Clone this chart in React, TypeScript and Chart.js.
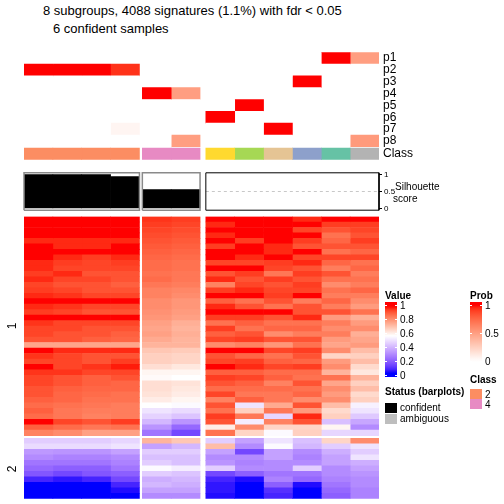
import React, { useEffect, useRef } from "react";
import { Chart, registerables } from "chart.js";

Chart.register(...registerables);

const FONT = '"Liberation Sans", Arial, Helvetica, sans-serif';

// ---------------- data ----------------
const titleLine1 = "8 subgroups, 4088 signatures (1.1%) with fdr < 0.05";
const titleLine2 = "6 confident samples";

const sampleGroup = [0, 0, 0, 0, 1, 1, 2, 2, 2, 2, 2, 2];
const sampleClass = [2, 2, 2, 2, 4, 4, 6, 5, 7, 3, 1, 8];
const sampleConfident = [1, 1, 1, 1, 1, 1, 0, 0, 0, 0, 0, 0];
const silhouette = [1, 1, 1, 0.94, 0.56, 0.56, 0, 0, 0, 0, 0, 0];

const probRowLabels = ["p1", "p2", "p3", "p4", "p5", "p6", "p7", "p8"];
const p1 = [0, 0, 0, 0, 0, 0, 0, 0, 0, 0, 1, 0.5];
const p2 = [1, 1, 1, 0.93, 0, 0, 0, 0, 0, 0, 0, 0];
const p3 = [0, 0, 0, 0, 0, 0, 0, 0, 0, 1, 0, 0];
const p4 = [0, 0, 0, 0, 1, 0.5, 0, 0, 0, 0, 0, 0];
const p5 = [0, 0, 0, 0, 0, 0, 0, 1, 0, 0, 0, 0];
const p6 = [0, 0, 0, 0, 0, 0, 1, 0, 0, 0, 0, 0];
const p7 = [0, 0, 0, 0.05, 0, 0, 0, 0, 1, 0, 0, 0];
const p8 = [0, 0, 0, 0, 0, 0.5, 0, 0, 0, 0, 0, 0.52];
const probRows = [p1, p2, p3, p4, p5, p6, p7, p8];

const classPalette: Record<number, string> = {
  1: "#66C2A5", 2: "#FC8D62", 3: "#8DA0CB", 4: "#E78AC3",
  5: "#A6D854", 6: "#FFD92F", 7: "#E5C494", 8: "#B3B3B3",
};
const legendClasses = [2, 4];

const rowGroupLabels = ["1", "2"];
const rowGroupSizes = [40, 11];

// heatmap columns (rows of group 1: 40 values, then group 2: 11 values)
const heatA1 = [
  1.0, 1.0, 0.98, 1.0, 0.95, 1.0, 1.0, 0.98, 0.95, 0.95, 0.93, 0.95, 0.92,
  0.93, 0.95, 1.0, 0.95, 0.93, 1.0, 0.94, 0.92, 0.92, 0.9, 0.75, 0.98, 0.94,
  0.92, 0.97, 0.94, 0.92, 0.92, 0.9, 0.9, 0.88, 0.86, 0.88, 0.86, 0.97, 0.88, 0.82,
  0.45, 0.48, 0.33, 0.3, 0.25, 0.22, 0.18, 0.08, 0.03, 0.03, 0.03,
];
const heatA2 = [
  1.0, 1.0, 1.0, 0.98, 0.95, 0.95, 0.98, 0.95, 0.93, 0.92, 0.95, 0.92, 0.9,
  0.92, 0.94, 0.98, 0.94, 0.92, 0.97, 0.92, 0.92, 0.9, 0.9, 0.75, 0.95, 0.92,
  0.92, 0.92, 0.94, 0.9, 0.9, 0.88, 0.87, 0.87, 0.85, 0.84, 0.84, 0.92, 0.86, 0.8,
  0.45, 0.48, 0.32, 0.28, 0.25, 0.2, 0.15, 0.06, 0.03, 0.03, 0.03,
];
const heatA3 = [
  1.0, 1.0, 0.98, 0.97, 0.95, 0.95, 0.97, 0.93, 0.92, 0.92, 0.9, 0.92, 0.9,
  0.9, 0.92, 1.0, 0.92, 0.9, 0.98, 0.92, 0.9, 0.9, 0.88, 0.75, 0.95, 0.9,
  0.9, 0.94, 0.92, 0.88, 0.88, 0.87, 0.86, 0.85, 0.84, 0.83, 0.82, 0.9, 0.84, 0.76,
  0.45, 0.48, 0.32, 0.28, 0.25, 0.2, 0.18, 0.08, 0.04, 0.03, 0.03,
];
const heatA4 = [
  1.0, 0.98, 0.97, 0.97, 0.95, 0.97, 0.98, 0.95, 0.93, 0.92, 0.9, 0.9, 0.88,
  0.9, 0.92, 1.0, 0.92, 0.9, 0.97, 0.92, 0.9, 0.88, 0.87, 0.75, 0.95, 0.9,
  0.93, 0.96, 0.92, 0.9, 0.87, 0.87, 0.85, 0.85, 0.83, 0.83, 0.83, 0.93, 0.85, 0.76,
  0.47, 0.5, 0.35, 0.3, 0.28, 0.25, 0.2, 0.15, 0.08, 0.05, 0.04,
];
const heatB1 = [
  0.94, 0.93, 0.92, 0.91, 0.9, 0.89, 0.88, 0.87, 0.86, 0.86, 0.85, 0.86, 0.84,
  0.82, 0.82, 0.8, 0.8, 0.79, 0.78, 0.76, 0.75, 0.76, 0.74, 0.72, 0.68, 0.66,
  0.66, 0.63, 0.58, 0.57, 0.63, 0.63, 0.62, 0.6, 0.56, 0.5, 0.46, 0.4, 0.32, 0.25,
  0.72, 0.35, 0.45, 0.42, 0.45, 0.55, 0.45, 0.38, 0.4, 0.35, 0.3,
];
const heatB2 = [
  0.93, 0.92, 0.91, 0.9, 0.89, 0.88, 0.87, 0.86, 0.85, 0.85, 0.84, 0.84, 0.83,
  0.81, 0.8, 0.78, 0.78, 0.77, 0.76, 0.73, 0.72, 0.73, 0.72, 0.72, 0.67, 0.65,
  0.65, 0.61, 0.58, 0.56, 0.62, 0.61, 0.6, 0.58, 0.55, 0.48, 0.43, 0.32, 0.22, 0.15,
  0.68, 0.4, 0.45, 0.42, 0.42, 0.52, 0.43, 0.4, 0.38, 0.35, 0.3,
];
const heatC1 = [
  1.0, 0.95, 1.0, 0.95, 1.0, 0.93, 1.0, 0.98, 0.92, 0.98, 0.9, 0.95, 0.82,
  0.93, 1.0, 0.88, 0.95, 1.0, 0.93, 0.85, 0.93, 0.88, 0.92, 0.8, 0.97, 0.9,
  0.92, 0.97, 0.88, 0.93, 0.9, 0.86, 0.92, 0.82, 0.9, 0.85, 0.93, 0.9, 0.6, 0.85,
  0.45, 0.7, 0.35, 0.3, 0.32, 0.45, 0.15, 0.08, 0.06, 0.06, 0.05,
];
const heatC2 = [
  1.0, 1.0, 0.98, 1.0, 0.93, 0.98, 1.0, 0.95, 0.92, 0.97, 0.93, 0.9, 0.92,
  0.95, 1.0, 0.85, 0.9, 0.97, 0.93, 0.88, 0.85, 0.9, 0.93, 0.82, 0.97, 0.87,
  0.93, 0.95, 0.88, 0.92, 0.88, 0.86, 0.84, 0.88, 0.5, 0.66, 0.84, 0.52, 0.8, 0.65,
  0.35, 0.3, 0.15, 0.3, 0.28, 0.3, 0.2, 0.05, 0.03, 0.03, 0.03,
];
const heatC3 = [
  1.0, 1.0, 1.0, 0.98, 0.98, 0.95, 0.95, 0.97, 0.93, 0.92, 0.84, 0.93, 0.9,
  0.92, 0.93, 0.9, 0.85, 0.97, 0.9, 0.85, 0.87, 0.8, 0.9, 0.78, 0.92, 0.85,
  0.88, 0.92, 0.86, 0.88, 0.82, 0.86, 0.84, 0.84, 0.74, 0.84, 0.47, 0.82, 0.65, 0.55,
  0.5, 0.55, 0.35, 0.35, 0.3, 0.3, 0.25, 0.28, 0.2, 0.1, 0.08,
];
const heatC4 = [
  0.95, 0.98, 0.92, 0.97, 0.93, 0.9, 0.97, 0.92, 0.95, 0.9, 0.93, 0.9, 0.93,
  0.92, 0.97, 0.83, 0.9, 0.9, 0.95, 0.85, 0.87, 0.83, 0.9, 0.85, 0.93, 0.9,
  0.87, 0.93, 0.86, 0.85, 0.9, 0.85, 0.87, 0.8, 0.9, 0.77, 0.95, 0.9, 0.65, 0.66,
  0.42, 0.4, 0.3, 0.28, 0.3, 0.45, 0.25, 0.22, 0.05, 0.03, 0.03,
];
const heatC5 = [
  0.97, 0.93, 0.9, 0.85, 0.87, 0.9, 0.85, 0.92, 0.87, 0.83, 0.9, 0.85, 0.8,
  0.85, 0.83, 0.87, 0.83, 0.9, 0.77, 0.83, 0.8, 0.83, 0.77, 0.75, 0.8, 0.65,
  0.77, 0.8, 0.72, 0.85, 0.75, 0.8, 0.77, 0.8, 0.7, 0.64, 0.66, 0.42, 0.58, 0.47,
  0.65, 0.45, 0.38, 0.35, 0.35, 0.3, 0.3, 0.28, 0.25, 0.22, 0.2,
];
const heatC6 = [
  0.97, 0.93, 0.92, 0.9, 0.93, 0.9, 0.87, 0.92, 0.85, 0.87, 0.83, 0.85, 0.83,
  0.87, 0.83, 0.8, 0.77, 0.85, 0.73, 0.77, 0.8, 0.73, 0.75, 0.77, 0.7, 0.66,
  0.7, 0.64, 0.61, 0.72, 0.66, 0.7, 0.64, 0.66, 0.53, 0.5, 0.44, 0.36, 0.3, 0.47,
  0.8, 0.5, 0.45, 0.5, 0.38, 0.35, 0.32, 0.3, 0.3, 0.28, 0.28,
];
const heatColumns = [heatA1, heatA2, heatA3, heatA4, heatB1, heatB2, heatC1, heatC2, heatC3, heatC4, heatC5, heatC6];

const valueTicks = [0, 0.2, 0.4, 0.6, 0.8, 1];
const probTicks = [0, 0.5, 1];
const silhouetteTicks = [0, 0.5, 1];

// ---------------- layout / style ----------------
const GROUP_GAP = [0, 0.1, 0.3];
const X_MAX = 12.3;
const ANN_CLASS_GAP = 0.1;
const ANN_MAX = 9 + ANN_CLASS_GAP;
const ROW_GAP = 0.5;
const HEAT_MAX = rowGroupSizes.reduce((a, b) => a + b, 0) + ROW_GAP * (rowGroupSizes.length - 1);
const HEAT_TOP = 216.5;
const HEAT_H = 282.2;
const groupBorder = ["#8a8a8a", "#8a8a8a", "#000000"];
const statusColors = { confident: "#000000", ambiguous: "#BEBEBE" };

const colStart = (i: number) => i + GROUP_GAP[sampleGroup[i]];
const annCenter = (k: number) => k + 0.5 + (k >= 8 ? ANN_CLASS_GAP : 0);
const heatRowGroup = (k: number) => {
  let acc = 0;
  for (let g = 0; g < rowGroupSizes.length; g++) {
    acc += rowGroupSizes[g];
    if (k < acc) return g;
  }
  return rowGroupSizes.length - 1;
};
const heatCenter = (k: number) => k + 0.5 + heatRowGroup(k) * ROW_GAP;

// ---------------- colours (LAB interpolation like circlize) ----------------
function hexToRgb(h: string): number[] {
  return [1, 3, 5].map((i) => parseInt(h.slice(i, i + 2), 16));
}
function rgbToLab(rgb: number[]): number[] {
  const lin = (c: number) => {
    c /= 255;
    return c <= 0.04045 ? c / 12.92 : Math.pow((c + 0.055) / 1.055, 2.4);
  };
  const [R, G, B] = rgb.map(lin);
  const X = (0.4124 * R + 0.3576 * G + 0.1805 * B) / 0.95047;
  const Y = 0.2126 * R + 0.7152 * G + 0.0722 * B;
  const Z = (0.0193 * R + 0.1192 * G + 0.9505 * B) / 1.08883;
  const f = (t: number) => (t > 0.008856 ? Math.cbrt(t) : 7.787 * t + 16 / 116);
  return [116 * f(Y) - 16, 500 * (f(X) - f(Y)), 200 * (f(Y) - f(Z))];
}
function labToHex(lab: number[]): string {
  const [L, a, b] = lab;
  const fy = (L + 16) / 116;
  const fx = fy + a / 500;
  const fz = fy - b / 200;
  const inv = (t: number) => (t * t * t > 0.008856 ? t * t * t : (t - 16 / 116) / 7.787);
  const X = inv(fx) * 0.95047;
  const Y = inv(fy);
  const Z = inv(fz) * 1.08883;
  const R = 3.2406 * X - 1.5372 * Y - 0.4986 * Z;
  const G = -0.9689 * X + 1.8758 * Y + 0.0415 * Z;
  const B = 0.0557 * X - 0.204 * Y + 1.057 * Z;
  const gam = (c: number) => {
    c = c <= 0.0031308 ? 12.92 * c : 1.055 * Math.pow(Math.max(c, 0), 1 / 2.4) - 0.055;
    return Math.round(Math.min(1, Math.max(0, c)) * 255);
  };
  return "#" + [R, G, B].map((c) => gam(c).toString(16).padStart(2, "0")).join("");
}
function makeRamp(breaks: number[], colors: string[]) {
  const labs = colors.map((c) => rgbToLab(hexToRgb(c)));
  return (v: number) => {
    if (v <= breaks[0]) return colors[0];
    if (v >= breaks[breaks.length - 1]) return colors[colors.length - 1];
    let j = 0;
    while (v > breaks[j + 1]) j++;
    const t = (v - breaks[j]) / (breaks[j + 1] - breaks[j]);
    return labToHex(labs[j].map((x, k) => x + (labs[j + 1][k] - x) * t));
  };
}
const valueColor = makeRamp([0.04, 0.56, 0.97], ["#0000FF", "#FFFFFF", "#FF0000"]);
const probColor = makeRamp([0, 1], ["#FFFFFF", "#FF0000"]);

const valueGradient =
  "linear-gradient(to top, " +
  Array.from({ length: 41 }, (_, n) => {
    const f = n / 40;
    const v = Math.min(1, Math.max(0, (75 * f - 2) / 70));
    return `${valueColor(v)} ${(f * 100).toFixed(2)}%`;
  }).join(", ") +
  ")";
const probGradient =
  "linear-gradient(to top, " +
  Array.from({ length: 21 }, (_, n) => {
    const f = n / 20;
    const v = Math.min(1, Math.max(0, (60 * f - 1) / 56));
    return `${probColor(v)} ${(f * 100).toFixed(2)}%`;
  }).join(", ") +
  ")";

const baseOptions: any = {
  responsive: false,
  animation: false,
  events: [],
  plugins: { legend: { display: false }, tooltip: { enabled: false } },
};

function Txt(props: { x: number; base: number; size: number; bold?: boolean; children: React.ReactNode }) {
  const { x, base, size, bold, children } = props;
  const lh = Math.round(size * 1.3);
  const top = base - ((lh - 1.117 * size) / 2 + 0.905 * size);
  return (
    <div
      style={{
        position: "absolute",
        left: x,
        top,
        fontSize: size,
        lineHeight: `${lh}px`,
        fontWeight: bold ? "bold" : "normal",
        whiteSpace: "nowrap",
      }}
    >
      {children}
    </div>
  );
}

export default function App() {
  const annRef = useRef<HTMLCanvasElement>(null);
  const silRef = useRef<HTMLCanvasElement>(null);
  const heatRef = useRef<HTMLCanvasElement>(null);

  useEffect(() => {
    const charts: Chart[] = [];
    const annLabels = [...probRowLabels, "Class"];

    // ---- top annotation (probabilities + class) ----
    const annDatasets = heatColumns.map((_, i) => ({
      data: annLabels.map((_, k) => ({ x: [colStart(i), colStart(i) + 1], y: annCenter(k) })),
      backgroundColor: annLabels.map((_, k) =>
        k < 8 ? probColor(probRows[k][i]) : classPalette[sampleClass[i]]
      ),
      borderWidth: 0,
      barPercentage: 1,
      categoryPercentage: 1,
      grouped: false,
    }));
    charts.push(
      new Chart(annRef.current as HTMLCanvasElement, {
        type: "bar",
        data: { datasets: annDatasets as any },
        options: {
          ...baseOptions,
          indexAxis: "y",
          layout: { padding: { left: 24, right: 0, top: 0.3, bottom: 1 } },
          scales: {
            x: { type: "linear", min: 0, max: X_MAX, display: false, offset: false },
            y: {
              type: "linear",
              reverse: true,
              min: 0,
              max: ANN_MAX,
              offset: false,
              position: "right",
              afterBuildTicks: (s: any) => {
                s.ticks = annLabels.map((_, k) => ({ value: annCenter(k) }));
              },
              afterFit: (s: any) => {
                s.width = 125;
              },
              ticks: {
                callback: (_v: any, idx: number) => annLabels[idx],
                font: { family: FONT, size: 12 },
                color: "#000",
                padding: 4,
                autoSkip: false,
              },
              grid: { display: false, drawTicks: false },
              border: { display: false },
            },
          },
        } as any,
      })
    );

    // ---- silhouette barplot ----
    const groups = [0, 1, 2].map((g) => {
      const idx = sampleGroup.map((gg, i) => (gg === g ? i : -1)).filter((i) => i >= 0);
      return { start: colStart(idx[0]), end: colStart(idx[idx.length - 1]) + 1 };
    });
    const silDatasets: any[] = [
      {
        type: "bar",
        data: silhouette.map((v, i) => ({ x: colStart(i) + 0.5, y: [0, v] })),
        backgroundColor: sampleConfident.map((c) => (c ? statusColors.confident : statusColors.ambiguous)),
        borderWidth: 0,
        barPercentage: 1,
        categoryPercentage: 1,
        grouped: false,
        inflateAmount: (ctx: any) => (silhouette[ctx.dataIndex] > 0 ? 0.33 : 0),
        order: 1,
      },
      ...groups.map((g) => ({
        type: "line",
        data: [
          { x: g.start, y: 0.5 },
          { x: g.end, y: 0.5 },
        ],
        borderColor: "#C8C8C8",
        borderDash: [3, 3],
        borderWidth: 1,
        pointRadius: 0,
        fill: false,
        order: 2,
      })),
      ...groups.map((g, gi) => ({
        type: "line",
        data: [
          { x: g.start, y: -0.05 },
          { x: g.start, y: 1.05 },
          { x: g.end, y: 1.05 },
          { x: g.end, y: -0.05 },
          { x: g.start, y: -0.05 },
        ],
        borderColor: groupBorder[gi],
        borderWidth: gi === 2 ? 1 : 1.5,
        pointRadius: 0,
        fill: false,
        clip: false,
        tension: 0,
        order: 0,
      })),
    ];
    charts.push(
      new Chart(silRef.current as HTMLCanvasElement, {
        type: "bar",
        data: { datasets: silDatasets },
        options: {
          ...baseOptions,
          layout: { padding: { left: 24, right: 0, top: 4.7, bottom: 3 } },
          scales: {
            x: {
              type: "linear",
              min: 0,
              max: X_MAX,
              offset: false,
              display: false,
              afterBuildTicks: (s: any) => {
                s.ticks = [{ value: 0 }, { value: X_MAX }];
              },
            },
            y: {
              type: "linear",
              min: -0.05,
              max: 1.05,
              offset: false,
              position: "right",
              afterBuildTicks: (s: any) => {
                s.ticks = silhouetteTicks.map((v) => ({ value: v }));
              },
              afterFit: (s: any) => {
                s.width = 125;
              },
              ticks: {
                callback: (v: any) => String(v),
                font: { family: FONT, size: 8 },
                color: "#000",
                padding: 2,
                autoSkip: false,
              },
              grid: { display: true, drawOnChartArea: false, drawTicks: true, tickLength: 3, color: "#000", lineWidth: 1 },
              border: { display: false },
            },
          },
        } as any,
      })
    );

    // ---- main heatmap ----
    const heatDatasets = heatColumns.map((col, i) => ({
      data: col.map((_, k) => ({ x: [colStart(i), colStart(i) + 1], y: heatCenter(k) })),
      backgroundColor: col.map((v) => valueColor(v)),
      borderWidth: 0,
      barPercentage: 1,
      categoryPercentage: 1,
      grouped: false,
    }));
    charts.push(
      new Chart(heatRef.current as HTMLCanvasElement, {
        type: "bar",
        data: { datasets: heatDatasets as any },
        options: {
          ...baseOptions,
          indexAxis: "y",
          layout: { padding: { left: 24, right: 125, top: 0.5, bottom: 0.3 } },
          scales: {
            x: { type: "linear", min: 0, max: X_MAX, display: false, offset: false },
            y: {
              type: "linear",
              reverse: true,
              min: 0,
              max: HEAT_MAX,
              offset: false,
              display: false,
              afterBuildTicks: (s: any) => {
                s.ticks = [{ value: 0 }, { value: HEAT_MAX }];
              },
            },
          },
        } as any,
      })
    );

    return () => charts.forEach((c) => c.destroy());
  }, []);

  const unitPx = HEAT_H / HEAT_MAX;
  let acc = 0;
  const rowLabelY = rowGroupSizes.map((n, g) => {
    const c = acc + n / 2 + g * ROW_GAP;
    acc += n;
    return HEAT_TOP + c * unitPx;
  });

  const canvasStyle = (top: number, h: number): React.CSSProperties => ({
    position: "absolute",
    left: 0,
    top,
    width: 504,
    height: h,
  });

  return (
    <div
      style={{
        position: "absolute",
        left: 0,
        top: 0,
        width: 504,
        height: 504,
        background: "#fff",
        fontFamily: FONT,
        color: "#000",
        overflow: "hidden",
      }}
    >
      <Txt x={43} base={15} size={13}>{titleLine1}</Txt>
      <Txt x={53} base={33} size={13}>{titleLine2}</Txt>

      <canvas ref={annRef} width={504} height={130} style={canvasStyle(41, 130)} />
      <canvas ref={silRef} width={504} height={51} style={canvasStyle(166, 51)} />
      <canvas ref={heatRef} width={504} height={283} style={canvasStyle(216, 283)} />

      <Txt x={395} base={190} size={10}>Silhouette</Txt>
      <Txt x={393} base={201.5} size={10}>score</Txt>

      {rowGroupLabels.map((l, g) => (
        <div
          key={l}
          style={{
            position: "absolute",
            left: 12,
            top: rowLabelY[g],
            transform: "translate(-50%, -50%) rotate(-90deg)",
            fontSize: 12,
            lineHeight: "14px",
          }}
        >
          {l}
        </div>
      ))}

      {/* Value legend */}
      <Txt x={385} base={298.5} size={10} bold>Value</Txt>
      <div style={{ position: "absolute", left: 385, top: 302, width: 12, height: 75, background: valueGradient }} />
      {valueTicks.map((v) => (
        <React.Fragment key={"vt" + v}>
          <div style={{ position: "absolute", left: 385, top: 375 - 70 * v - 0.5, width: 2, height: 1, background: "#fff" }} />
          <div style={{ position: "absolute", left: 395, top: 375 - 70 * v - 0.5, width: 2, height: 1, background: "#fff" }} />
          <Txt x={400} base={375 - 70 * v + 3.6} size={10}>{String(v)}</Txt>
        </React.Fragment>
      ))}

      {/* Prob legend */}
      <Txt x={470} base={298.5} size={10} bold>Prob</Txt>
      <div style={{ position: "absolute", left: 470, top: 302, width: 12, height: 60, background: probGradient }} />
      {probTicks.map((v) => (
        <React.Fragment key={"pt" + v}>
          <div style={{ position: "absolute", left: 470, top: 361 - 56 * v - 0.5, width: 2, height: 1, background: "#fff" }} />
          <div style={{ position: "absolute", left: 480, top: 361 - 56 * v - 0.5, width: 2, height: 1, background: "#fff" }} />
          <Txt x={485} base={361 - 56 * v + 3.6} size={10}>{String(v)}</Txt>
        </React.Fragment>
      ))}

      {/* Class legend */}
      <Txt x={470} base={382.6} size={10} bold>Class</Txt>
      {legendClasses.map((c, n) => (
        <React.Fragment key={"cl" + c}>
          <div style={{ position: "absolute", left: 470, top: 389 + n * 10, width: 12, height: 10, background: classPalette[c] }} />
          <Txt x={485} base={397.6 + n * 10} size={10}>{String(c)}</Txt>
        </React.Fragment>
      ))}

      {/* Status legend */}
      <Txt x={385} base={395.3} size={10} bold>Status (barplots)</Txt>
      <div style={{ position: "absolute", left: 385, top: 403, width: 12, height: 9.5, background: statusColors.confident }} />
      <Txt x={400} base={411} size={10}>confident</Txt>
      <div style={{ position: "absolute", left: 385, top: 414, width: 12, height: 9.5, background: statusColors.ambiguous }} />
      <Txt x={400} base={422} size={10}>ambiguous</Txt>
    </div>
  );
}
